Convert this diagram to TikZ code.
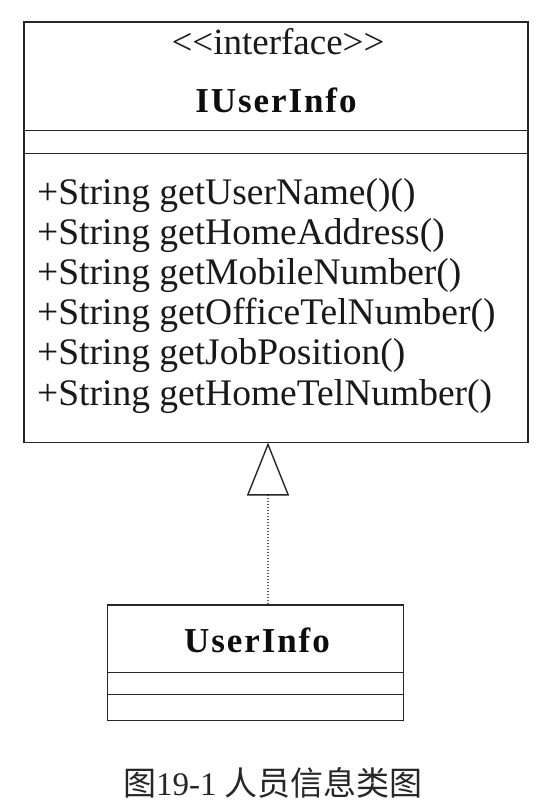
\documentclass[tikz,border=0pt]{standalone}
\usepackage{fontspec}
\setmainfont{Liberation Serif}
\newfontfamily\cjk{Noto Sans CJK SC}
\newfontfamily\spacedbf[LetterSpace=5.5]{Liberation Serif Bold}
\usetikzlibrary{arrows.meta}
\begin{document}
\begin{tikzpicture}[x=1pt,y=-1pt,
  classbox/.style={draw=black!85, line width=1.4pt, fill=white, rectangle, inner sep=0pt},
  divider/.style={draw=black!85, line width=1.3pt},
  meth/.style={anchor=base west, inner sep=0pt, text=black!90, font=\fontsize{37.5}{42}\selectfont},
  stereo/.style={anchor=base, inner sep=0pt, text=black!90, font=\fontsize{37}{40}\selectfont},
  cname/.style={anchor=base, inner sep=0pt, text=black!95, font=\spacedbf\fontsize{35}{40}\selectfont},
  realize/.style={draw=black!65, line width=1.3pt, dash pattern=on 1.3pt off 1.7pt,
    -{Triangle[open, length=53pt, width=42pt, line width=1.4pt, color=black!85, fill=white]}},
  captext/.style={anchor=base, inner sep=0pt, text=black!85, font=\fontsize{33}{36}\selectfont}]
\useasboundingbox (0,0) rectangle (552,812);
\fill[white] (0,0) rectangle (552,812);

% interface box
\node[classbox, minimum width=504pt, minimum height=420.5pt] (iface) at (276,232.25) {};
\draw[divider] ([yshift=-109pt]iface.north west) -- ([yshift=-109pt]iface.north east);
\draw[divider] ([yshift=-132.5pt]iface.north west) -- ([yshift=-132.5pt]iface.north east);
\node[stereo] (st) at (278,54) {<\kern0pt<interface>\kern0pt>};
\node[cname] (inm) at (276,112) {IUserInfo};
\node[meth] (m1) at (37,204) {+String getUserName()()};
\node[meth] (m2) at (37,244.2) {+String getHomeAddress()};
\node[meth] (m3) at (37,284.4) {+String getMobileNumber()};
\node[meth] (m4) at (37,324.6) {+String getOfficeTelNumber()};
\node[meth] (m5) at (37,364.8) {+String getJobPosition()};
\node[meth] (m6) at (37,405) {+String getHomeTelNumber()};

% class box
\node[classbox, minimum width=296pt, minimum height=115.5pt] (cls) at (255.4,662.75) {};
\draw[divider] ([yshift=-68pt]cls.north west) -- ([yshift=-68pt]cls.north east);
\draw[divider] ([yshift=-90pt]cls.north west) -- ([yshift=-90pt]cls.north east);
\node[cname] (cnm) at (257,652) {UserInfo};

% realization
\coordinate (tip) at (268,442.5);
\draw[realize] (cls.north -| tip) -- (tip);

% caption
\node[captext] (cap) at (273,795) {{\cjk 图}19-1 {\cjk 人员信息类图}};
\end{tikzpicture}
\end{document}
